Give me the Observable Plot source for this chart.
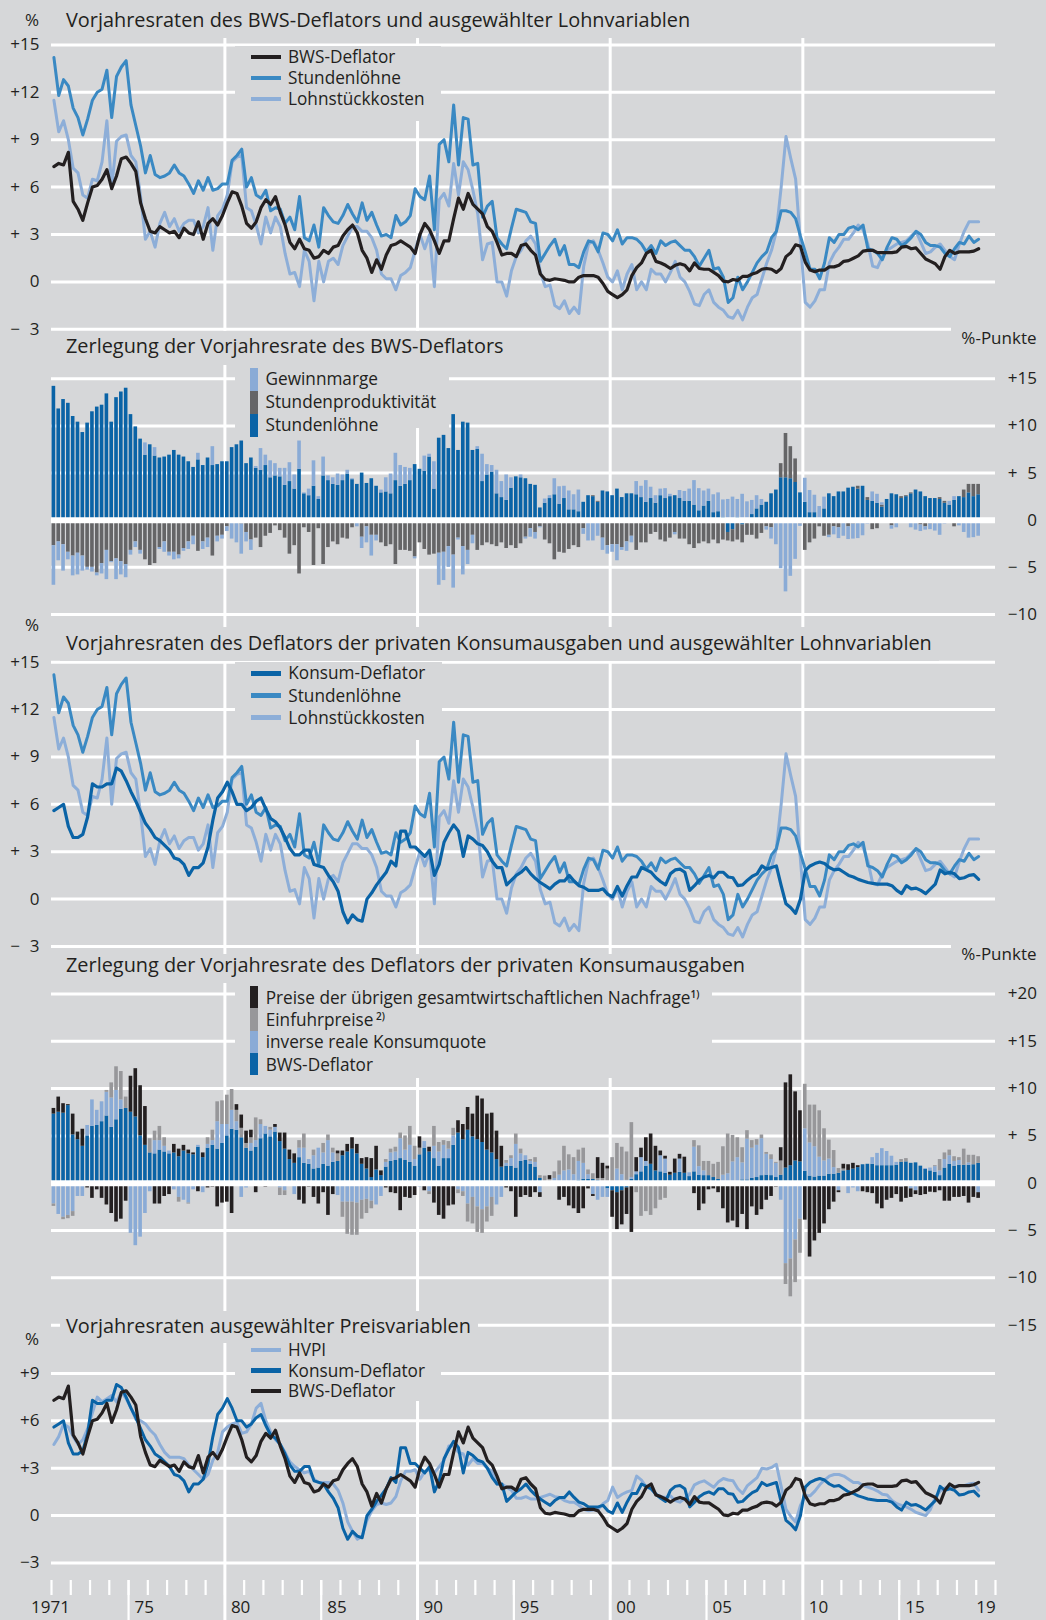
<!DOCTYPE html>
<html><head><meta charset="utf-8">
<script src="https://cdn.jsdelivr.net/npm/d3@7"></script>
<script src="https://cdn.jsdelivr.net/npm/@observablehq/plot@0.6"></script>
<style>
html,body{margin:0;padding:0;background:#d6d7d9;}
#chart{position:relative;width:1046px;height:1620px;background:#d6d7d9;overflow:hidden;font-family:"Open Sans","Noto Sans","DejaVu Sans",sans-serif;color:#231f20;}
#chart svg{position:absolute;left:0;overflow:visible;}
.m{position:absolute;background:#d6d7d9;}
.t{position:absolute;transform:translateY(-50%);line-height:1.2;white-space:nowrap;color:#231f20;}
.sw{position:absolute;}
sup{font-size:0.58em;vertical-align:0.6em;line-height:0;font-weight:600;}
</style></head>
<body><div id="chart"></div>
<script>
// ---------- data (quarterly, 1971Q1 .. 2019Q1) ----------
const bws = [
7.3,7.5,7.4,8.2, 5.1,4.6,3.9,5.0, 6.0,6.1,6.5,7.1, 5.9,6.7,7.8,7.9, 7.5,7.0,5.0,4.0,
3.2,3.1,3.5,3.3, 3.1,3.2,2.8,3.4, 3.1,3.0,3.8,2.7, 3.7,4.0,3.6,4.2, 5.0,5.7,5.6,4.8,
3.7,3.4,3.8,4.7, 5.2,4.9,5.4,4.4, 3.6,2.5,2.1,2.7, 2.1,2.0,1.5,1.6, 2.0,1.8,2.2,2.3,
2.9,3.3,3.6,3.1, 2.0,1.5,0.6,1.4, 0.8,1.7,2.3,2.4, 2.6,2.4,2.2,1.8, 3.0,3.7,3.3,2.6,
1.8,2.6,2.6,4.0, 5.3,4.6,5.6,4.9, 4.6,4.3,3.5,3.2, 2.5,1.7,1.8,1.8, 1.6,2.3,2.4,2.0,
1.7,0.5,0.15,0.1, 0.2,0.15,0.1,0.0, 0.0,0.3,0.4,0.4, 0.4,0.3,-0.1,-0.6, -0.8,-1.0,-0.8,-0.5,
0.4,0.9,1.2,1.8, 2.0,1.3,1.2,1.05, 0.85,1.05,1.15,1.05, 0.7,1.2,0.85,0.8, 0.8,0.6,0.4,0.05,
0.0,0.15,0.1,0.35, 0.35,0.5,0.6,0.8, 0.85,0.8,0.6,0.85, 1.6,1.85,2.35,2.25, 1.25,0.75,0.65,0.75,
0.75,0.95,0.95,1.05, 1.3,1.35,1.5,1.65, 1.95,2.0,2.0,1.85, 1.85,1.85,1.85,1.9, 2.2,2.25,2.1,2.15,
1.8,1.45,1.3,1.15, 0.8,1.6,2.0,1.8, 1.9,1.9,1.9,1.95, 2.1];

const stundenloehne = [
14.2,11.8,12.8,12.4, 11.0,10.4,9.3,10.3, 11.5,12.0,12.2,13.4, 10.4,13.0,13.6,14.0, 11.2,9.9,8.6,6.9,
8.0,6.8,6.6,6.7, 6.9,7.4,6.9,6.7, 6.2,5.6,6.4,5.8, 6.6,5.8,5.9,6.2, 6.2,7.7,8.0,8.4,
6.0,6.6,5.5,5.3, 5.8,4.5,4.7,4.6, 3.7,4.1,3.3,5.4, 2.8,2.6,3.6,2.2, 4.7,4.2,3.8,3.7,
4.2,4.9,4.3,3.8, 5.0,3.9,4.4,3.6, 2.9,3.0,2.8,4.2, 3.6,3.8,4.2,5.9, 5.4,5.2,6.7,3.3,
8.7,9.0,7.6,11.2, 7.4,10.4,10.3,7.4, 7.5,4.1,4.8,5.1, 2.8,2.4,2.1,3.4, 4.6,4.5,4.4,3.8,
3.7,1.3,1.8,2.3, 2.7,1.7,2.3,1.1, 1.1,0.9,1.9,2.6, 2.5,1.9,3.1,3.0, 2.6,3.3,2.4,2.8,
2.8,2.7,2.4,1.9, 2.3,1.8,2.6,2.3, 2.5,2.6,2.3,2.0, 2.0,1.6,1.0,1.5, 2.0,0.8,0.9,0.3,
-1.3,-1.0,0.3,-0.5, 0.0,0.6,1.2,1.6, 1.9,2.8,3.2,4.5, 4.5,4.4,4.0,2.9, 1.9,0.8,0.8,0.2,
1.2,2.8,2.5,3.0, 3.0,3.4,3.5,3.3, 3.6,2.1,2.0,1.8, 1.4,2.2,2.8,2.7, 2.3,2.5,2.8,3.2,
3.0,2.5,2.3,2.3, 2.2,1.8,1.6,2.1, 2.5,2.4,2.9,2.5, 2.7];

const lohnstueckkosten = [
11.5,9.5,10.2,9.0, 7.2,6.9,5.5,5.3, 6.5,6.4,7.6,10.2, 6.0,8.9,9.2,9.3, 8.0,7.6,5.4,2.7,
3.2,2.2,3.7,4.4, 3.5,4.0,3.2,3.7, 3.9,3.9,3.1,3.5, 4.7,2.0,4.2,4.6, 5.5,7.6,7.9,8.0,
4.7,4.5,3.6,2.4, 4.1,3.1,4.1,3.5, 1.8,0.5,0.6,-0.3, 2.0,1.3,-1.2,1.3, 0.0,1.3,1.5,1.1,
2.3,2.9,3.5,3.5, 3.2,3.2,2.8,2.0, 0.5,0.2,0.2,-0.5, 0.4,0.6,0.9,2.0, 3.0,2.1,3.0,-0.3,
5.2,5.6,4.8,7.5, 5.5,7.6,7.1,5.8, 4.3,1.4,2.4,2.5, 0.0,0.0,-0.9,0.7, 1.6,2.0,2.6,2.9,
2.4,0.6,-0.3,-0.2, -1.5,-1.7,-1.2,-2.0, -1.6,-2.0,1.0,2.4, 2.6,2.0,1.2,0.3, 0.0,0.7,-0.5,0.5,
1.1,-0.5,0.0,-0.5, 0.8,0.5,0.5,0.0, 0.6,1.3,0.3,0.0, -0.6,-1.4,-1.5,-0.8, -0.5,-1.3,-1.6,-1.8,
-2.2,-2.3,-1.8,-2.4, -1.6,-1.0,-0.8,0.2, 1.2,2.0,3.2,6.0, 9.2,7.8,6.5,2.5, -1.3,-1.6,-1.2,-0.5,
-0.5,1.2,1.8,2.2, 2.7,2.7,3.1,3.6, 3.3,2.4,1.0,0.9, 1.6,2.0,2.2,2.4, 2.5,2.6,2.9,3.2,
2.5,1.8,1.9,2.2, 2.4,2.0,1.6,1.4, 2.4,3.2,3.8,3.8, 3.8];

const konsumDeflator = [
5.6,5.8,6.0,4.6, 3.9,3.9,4.1,5.2, 7.3,7.1,7.1,7.3, 7.3,8.3,8.1,7.5, 6.8,6.2,5.5,4.8,
4.4,3.9,3.7,3.4, 3.1,2.6,2.5,2.2, 1.5,2.0,2.0,2.3, 3.3,5.0,6.4,6.8, 7.4,6.8,6.0,6.0,
5.6,5.8,6.2,6.4, 5.7,5.1,4.9,4.5, 3.9,3.2,2.8,2.8, 3.1,3.1,2.2,2.1, 2.0,1.5,1.1,0.5,
-0.8,-1.5,-1.0,-1.3, -1.4,0.0,0.4,0.9, 1.3,1.7,2.4,2.1, 4.3,4.3,3.3,3.3, 3.0,2.7,3.1,1.5,
2.2,3.6,4.2,4.7, 4.3,2.7,4.0,3.8, 3.5,3.4,3.0,2.4, 2.0,2.0,0.9,1.2, 1.5,1.7,2.0,1.6,
1.3,1.05,0.85,0.65, 0.95,1.15,1.15,1.5, 1.15,0.85,0.75,0.55, 0.55,0.55,0.65,0.3, 0.15,0.8,0.2,0.85,
1.4,1.4,2.0,1.85, 1.7,1.35,1.1,0.9, 1.6,1.85,1.9,1.7, 0.55,0.85,1.2,1.4, 1.5,1.35,1.7,1.7,
1.4,1.35,0.85,0.9, 1.2,1.45,1.6,2.1, 1.9,2.0,2.1,0.85, -0.3,-0.55,-0.9,0.0, 1.8,2.1,2.25,2.35,
2.25,2.0,1.85,1.9, 1.7,1.5,1.4,1.25, 1.15,1.05,1.0,0.95, 0.95,0.95,0.85,0.55, 0.35,0.85,0.65,0.7,
0.55,0.35,0.65,0.95, 1.85,1.6,1.7,1.6, 1.3,1.35,1.5,1.55, 1.25];

const hvpi = [
4.5,5.0,5.8,5.6, 5.0,4.5,4.8,5.5, 6.5,7.5,7.2,7.4, 7.6,7.2,7.8,7.4, 6.8,6.1,6.0,5.8,
5.4,5.1,4.5,4.0, 3.7,3.7,3.7,3.6, 3.2,2.9,2.6,2.3, 2.6,3.5,4.0,5.3, 5.6,5.8,5.9,5.2,
5.3,5.8,6.8,7.1, 6.0,5.3,4.8,4.5, 4.0,3.4,3.1,2.9, 2.7,2.8,2.3,2.1, 2.1,2.1,2.0,1.6,
0.8,-0.4,-1.0,-1.5, -1.3,-0.3,0.3,0.7, 0.8,0.7,0.8,1.2, 2.2,2.8,2.8,2.9, 2.3,2.8,2.9,2.7,
3.1,3.5,4.4,4.4, 4.0,3.9,3.2,3.6, 3.3,3.3,3.0,2.8, 2.0,2.0,1.8,1.6, 1.1,1.1,1.2,1.05,
1.05,1.15,1.25,1.35, 1.2,1.15,0.95,0.85, 0.85,0.65,0.4,0.3, 0.35,0.4,0.75,0.95, 1.8,1.15,1.35,1.5,
1.6,2.5,2.25,1.8, 1.7,1.35,1.2,1.15, 1.25,0.95,0.85,1.1, 1.35,1.95,2.1,2.2, 2.0,1.8,2.15,2.35,
2.25,2.2,1.7,1.4, 1.9,2.15,2.4,3.0, 2.95,3.05,3.25,1.85, 0.4,-0.05,-0.4,0.65, 1.25,1.25,1.55,1.95,
2.25,2.5,2.6,2.6, 2.5,2.3,2.1,2.1, 1.9,1.8,1.7,1.55, 1.35,1.3,0.95,0.75, 0.65,0.55,0.4,0.2,
0.1,0.0,0.4,1.15, 1.55,1.75,1.8,1.85, 1.9,1.9,2.0,2.05, 1.6];

// contributions to the consumption deflator (percentage points)
const konsumquote = [
-2.2,-3.3,-3.6,-3.4, -3.0,-1.4,-1.4,1.1, 2.8,1.6,2.1,2.5, 3.1,3.1,1.0,0, -5.3,-6.6,-5.7,-3.2,
-0.9,1.4,1.0,0.6, 0.3,-0.7,-1.5,-1.8, -2.1,-0.7,0.2,-1.0, 0.4,0.5,2.9,2.0, 1.2,2.0,0.9,-1.5,
-0.5,0.8,0.7,1.5, 0.8,0.7,0.5,-0.5, -0.8,-0.3,-1.2,1.0, 1.6,0.5,1.4,2.1, 1.2,2.7,1.0,-1.3,
-2.0,-2.0,-2.0,-2.1, -1.8,-1.7,-1.9,-2.3, -1.4,0.5,0.9,0.9, 2.1,1.1,1.8,0.7, -0.4,0.7,-0.9,1.3,
1.5,1.4,1.0,1.0, -0.7,-0.9,-2.2,-1.5, -2.5,-2.8,-2.5,-1.5, -2.3,-1.5,0.3,0.8, 2.5,0.8,0.5,0.3,
0.5,-1.0,0,0, 0.3,0.7,1.2,1.4, 0.9,2.0,1.7,0.5, -1.2,-1.8,-1.4,-0.9, 0,1.5,0.9,0.3,
0.2,0.3,1.5,0.5, 0,0,1.7,1.5, 0,0,1.4,0, 0.4,2.6,0.9,0.5, 0,0,0,0.8,
1.0,2.1,2.6,1.8, 4.3,3.2,3.4,3.9, 2.2,1.7,1.5,-1.8, -8.5,-8.0,-6.0,-3.8, 4.5,3.5,3.2,2.0,
1.6,1.6,0.7,-0.8, 0,-1.1,-0.5,-0.9, -0.3,0,0.7,1.3, 1.8,1.5,1.0,0.3, -0.4,0,-0.6,-0.8,
0,0.1,0.3,0.6, 0.5,0.9,0.9,0.5, 0.5,0,0.25,0, -1.0];

const einfuhrpreise = [
-0.25,0,-0.25,-0.35, -0.5,0,0,0, 0,0,0,0.2, 1.6,2.5,3.0,1.2, 0,0,0,0,
1.5,1.0,1.5,0.9, 0,0,-0.5,0, -0.1,0,0,0, 0.7,1.1,2.1,2.5, 3.1,2.2,1.2,1.0,
0.5,0.6,2.4,0.5, 0,0.3,0,-0.8, -0.5,0,0,0.8, 1.5,0,0.6,0, 1.0,0.6,0.5,0.8,
-1.6,-3.4,-3.5,-3.4, -2.0,-1.5,-0.8,0, 0,0.3,0.4,0.5, 0.6,1.5,2.0,1.4, 0.7,0,-0.3,2.1,
1.0,0.5,0.8,0.8, -0.4,-0.5,-1.9,-2.8, -2.7,-2.5,-1.6,-2.0, 0,0,0.3,0.3, 1.1,0.5,0,0.2,
0.5,0.3,0.6,0.3, 0.7,1.5,2.6,1.6, 1.8,1.2,1.6,0.5, 0.6,0.2,0.5,1.5, 2.7,2.7,2.9,3.0,
5.8,-1.0,-3.5,-3.0, -3.4,-2.7,-1.8,-1.6, 0,-0.3,0,0, 0,0.7,2.2,1.0, 1.5,1.4,1.8,3.0,
4.2,2.8,2.1,1.6, 0.9,0.8,0.6,0.4, 0.2,0.5,0.1,1.5, -2.2,-4.0,-4.5,-3.6, 4.7,4.0,4.4,4.9,
3.4,2.0,1.8,0.5, 0.2,0,0,0, 0,0,0,0, 0,0,0,0, 0.3,0.35,0,0,
0,0,0,0.1, 1.2,0.7,0.6,0.5, 0.3,1.7,0.8,1.0, 0.7];

const uebrigeNachfrage = [
0.6,1.6,1.0,0.1, 2.2,0.8,1.8,-0.5, -1.6,-0.7,-1.6,-2.3, -3.2,-4.1,-3.8,-1.9, 3.8,5.1,5.3,4.1,
0,-2.2,-2.2,-1.4, -1.2,0.9,0.8,0.6, 0.4,0.2,-0.9,0.5, -0.5,-0.4,-2.5,-2.1, -2.0,-3.2,0.6,1.4,
1.3,0.8,-1.0,-0.3, -0.4,-0.3,0.3,0.9, 1.7,1.0,1.0,-1.8, -2.2,-0.4,-1.5,-2.2, -1.0,-3.4,-1.2,0.3,
0.5,0.8,1.2,1.0, 0.6,1.2,2.0,2.5, 0.5,-0.5,-1.0,-1.1, -2.9,-1.5,-1.6,-1.3, 1.2,-0.8,0.5,-2.1,
-3.4,-3.8,-2.4,-2.3, 1.3,1.6,2.4,2.4, 4.6,4.6,3.8,4.2, 3.0,2.2,-0.5,-0.9, -3.6,-1.5,-1.3,-1.5,
-1.0,-0.5,0,0.4, -0.3,-1.8,-1.5,-2.4, -2.7,-3.2,-2.7,-0.6, -0.2,2.2,1.6,0.3, -2.8,-3.9,-3.6,-2.8,
-5.2,1.5,1.0,2.5, 3.2,2.6,0.5,0.3, 0.3,1.5,0.5,1.7, 0,-1.1,-2.9,-2.2, -0.7,-0.6,-1.0,-2.7,
-4.2,-4.0,-4.7,-3.3, -4.9,-2.5,-3.4,-2.8, -1.8,-1.4,-0.4,1.4, 9.0,9.6,7.3,5.4, -3.9,-7.8,-6.1,-5.3,
-4.3,-2.8,-2.0,-0.2, 0.5,0.6,0.6,0.2, -0.6,-1.0,-1.1,-2.2, -2.7,-1.8,-1.6,-1.2, -1.6,-1.6,-0.9,-0.4,
-1.3,-1.2,-0.95,-1.0, -0.8,-1.9,-1.9,-1.5, -1.5,-1.4,-2.1,-1.5, -0.6];

// axis ticks and labels
const p1Ticks = [15,12,9,6,3,0,-3];
const p1Labels = ["+15","+12","+\u20079","+\u20076","+\u20073","0","\u2212\u20073"];
const p2Ticks = [15,10,5,0,-5,-10];
const p2Labels = ["+15","+10","+\u20075","0","\u2212\u20075","\u221210"];
const p4Ticks = [20,15,10,5,0,-5,-10,-15];
const p4Labels = ["+20","+15","+10","+\u20075","0","\u2212\u20075","\u221210","\u221215"];
const p5Ticks = [9,6,3,0,-3];
const p5Labels = ["+9","+6","+3","0","\u22123"];
const decadeYears = [1980,1990,2000,2010];
const fiveYears = [1975,1985,1995,2005,2015];
const labelYears = [1971,1975,1980,1985,1990,1995,2000,2005,2010,2015,2019];
const labelTexts = ["1971","75","80","85","90","95","00","05","10","15","19"];

// ---------- checks ----------
const N = 193;
for (const [n,a] of Object.entries({bws,stundenloehne,lohnstueckkosten,konsumDeflator,hvpi,konsumquote,einfuhrpreise,uebrigeNachfrage}))
  if (a.length !== N) throw new Error(n + " has " + a.length + " values");

// ---------- styling ----------
const BG = "#d6d7d9";
const C = {black:"#231f20", sl:"#3a89c3", lsk:"#8daed8", dark:"#0a63a6", marge:"#8aabd6", prod:"#656567", ep:"#97979a"};
const FONT = '"Open Sans","Noto Sans","DejaVu Sans",sans-serif';
const TICKFONT = 17;
const X = {domain:[1971,2020], range:[51,995], axis:null};

const chart = document.getElementById("chart");
const quarters = d3.range(N).map(i => 1971 + i / 4);
const rows = quarters.map((t,i) => ({t, tm: t + 0.125, bws: bws[i], sl: stundenloehne[i], lsk: lohnstueckkosten[i], kons: konsumDeflator[i], hvpi: hvpi[i]}));

function grid(ticks){ return Plot.ruleY(ticks, {stroke:"white", strokeWidth:3}); }
function yLabels(ticks, labels, side){
  return Plot.text(ticks.map((v,i)=>({v, s: labels[i]})), {y:"v", text:"s", frameAnchor: side, textAnchor:"end",
    dx: side === "left" ? -12 : 41.5, fill: C.black, fontSize: TICKFONT});
}
function place(top, opts){
  const svg = Plot.plot({width:1046, marginLeft:51, marginRight:51, marginTop:0, marginBottom:0, x: X,
    style:{background:"transparent", fontFamily: FONT, color: C.black, overflow:"visible"}, ...opts});
  svg.style.top = top + "px";
  chart.append(svg);
}

// background: decade gridlines through all panels
place(0, {height:1620, marginTop:38, y:{axis:null}, marks:[Plot.ruleX(decadeYears, {stroke:"white", strokeWidth:3})]});

// panel 1
place(0, {height:340, y:{domain:[-3,15], range:[328.8,44.4], axis:null}, marks:[
  grid(p1Ticks), yLabels(p1Ticks, p1Labels, "left"),
  Plot.line(rows, {x:"tm", y:"lsk", stroke:C.lsk, strokeWidth:3}),
  Plot.line(rows, {x:"tm", y:"sl", stroke:C.sl, strokeWidth:3}),
  Plot.line(rows, {x:"tm", y:"bws", stroke:C.black, strokeWidth:3.2})
]});

// panel 2
const p2 = quarters.flatMap((t,i) => [
  {t, s:"Stundenlöhne", v: stundenloehne[i]},
  {t, s:"Stundenproduktivität", v: Math.round((lohnstueckkosten[i]-stundenloehne[i])*100)/100},
  {t, s:"Gewinnmarge", v: Math.round((bws[i]-lohnstueckkosten[i])*100)/100}
]);
const p2Order = ["Stundenlöhne","Stundenproduktivität","Gewinnmarge"];
place(330, {height:295, y:{domain:[-10,15], range:[284,48.3], axis:null},
  color:{domain:p2Order, range:[C.dark, C.prod, C.marge]}, marks:[
  grid(p2Ticks.filter(d=>d!==0)), yLabels(p2Ticks, p2Labels, "right"),
  Plot.rectY(p2, {x1:"t", x2: d => d.t + 0.25, y:"v", fill:"s", order:p2Order, insetLeft:0.6, insetRight:0.6}),
  Plot.ruleY([0], {stroke:"white", strokeWidth:6})
]});

// panel 3
place(620, {height:335, y:{domain:[-3,15], range:[326,41.7], axis:null}, marks:[
  grid(p1Ticks), yLabels(p1Ticks, p1Labels, "left"),
  Plot.line(rows, {x:"tm", y:"lsk", stroke:C.lsk, strokeWidth:3}),
  Plot.line(rows, {x:"tm", y:"sl", stroke:C.sl, strokeWidth:3}),
  Plot.line(rows, {x:"tm", y:"kons", stroke:C.dark, strokeWidth:3.2})
]});

// panel 4
const p4Order = ["BWS","KQ","EP","UN"];
const p4 = quarters.flatMap((t,i) => [
  {t, s:"BWS", v: bws[i]}, {t, s:"KQ", v: konsumquote[i]}, {t, s:"EP", v: einfuhrpreise[i]}, {t, s:"UN", v: uebrigeNachfrage[i]}
]);
place(950, {height:380, y:{domain:[-15,20], range:[374.7,43.4], axis:null},
  color:{domain:p4Order, range:[C.dark, C.marge, C.ep, C.black]}, marks:[
  grid(p4Ticks.filter(d=>d!==0)), yLabels(p4Ticks, p4Labels, "right"),
  Plot.rectY(p4, {x1:"t", x2: d => d.t + 0.25, y:"v", fill:"s", order:p4Order, insetLeft:0.6, insetRight:0.6}),
  Plot.ruleY([0], {stroke:"white", strokeWidth:6})
]});

// panel 5 with the time axis
const allYears = d3.range(1971, 2021);
place(1320, {height:300, marginBottom:40, y:{domain:[-3,9], range:[242.5,52.9], axis:null}, marks:[
  grid(p5Ticks), yLabels(p5Ticks, p5Labels, "left"),
  Plot.line(rows, {x:"tm", y:"hvpi", stroke:C.lsk, strokeWidth:3}),
  Plot.line(rows, {x:"tm", y:"kons", stroke:C.dark, strokeWidth:3}),
  Plot.line(rows, {x:"tm", y:"bws", stroke:C.black, strokeWidth:3.2}),
  Plot.axisX({ticks: allYears, anchor:"bottom", tickSize:15, tickFormat: () => "", stroke:"white", strokeWidth:2.2}),
  Plot.axisX({ticks: fiveYears, anchor:"bottom", tickSize:40, tickFormat: () => "", stroke:"white", strokeWidth:2.2}),
  Plot.text(labelYears.map((y,i)=>({y, s:labelTexts[i]})).filter(d => d.y > 1971 && d.y < 2019),
    {x:"y", text:"s", frameAnchor:"bottom", dy:32.5, dx:6, textAnchor:"start", fill:C.black, fontSize:TICKFONT}),
  Plot.text(labelYears.map((y,i)=>({y, s:labelTexts[i]})).filter(d => d.y === 1971),
    {x:"y", text:"s", frameAnchor:"bottom", dy:32.5, dx:-1, textAnchor:"middle", fill:C.black, fontSize:TICKFONT}),
  Plot.text(labelYears.map((y,i)=>({y, s:labelTexts[i]})).filter(d => d.y === 2019),
    {x:"y", text:"s", frameAnchor:"bottom", dy:32.5, dx:0, textAnchor:"start", fill:C.black, fontSize:TICKFONT})
]});

// ---------- HTML overlays: masks, titles, legends ----------
function mask(x0,y0,x1,y1){ const d=document.createElement("div"); d.className="m";
  Object.assign(d.style,{left:x0+"px",top:y0+"px",width:(x1-x0)+"px",height:(y1-y0)+"px"}); chart.append(d); return d; }
function text(html,x,cy,size,anchorEnd){ const d=document.createElement("div"); d.className="t"; d.innerHTML=html;
  Object.assign(d.style,{left:x+"px",top:cy+"px",fontSize:size+"px"}); if(anchorEnd) d.style.transform="translate(-100%,-50%)";
  chart.append(d); return d; }
function swatchLine(x,cy,color){ const d=document.createElement("div"); d.className="sw";
  Object.assign(d.style,{left:x+"px",top:(cy-2.25)+"px",width:"30px",height:"4.5px",background:color}); chart.append(d); }
function swatchBlock(x,y0,y1,color){ const d=document.createElement("div"); d.className="sw";
  Object.assign(d.style,{left:x+"px",top:y0+"px",width:"7.7px",height:(y1-y0)+"px",background:color}); chart.append(d); }

// fit title font so that the long title spans ~866 px
const probe = text("Vorjahresraten des Deflators der privaten Konsumausgaben und ausgewählter Lohnvariablen",0,-100,100);
const TITLE = 100 * 866 / probe.offsetWidth; probe.remove();
const probe2 = text("Konsum-Deflator",0,-100,100);
const LEG = 100 * 137 / probe2.offsetWidth; probe2.remove();

function title(str, cy, y0, y1){
  const t = text(str, 66, cy, TITLE);
  const w = t.offsetWidth;
  t.remove();
  mask(60, y0, 66 + w + 7, y1);
  chart.append(t);
}
title("Vorjahresraten des BWS-Deflators und ausgewählter Lohnvariablen", 19.8, 0, 38);
title("Zerlegung der Vorjahresrate des BWS-Deflators", 346, 331, 365);
title("Vorjahresraten des Deflators der privaten Konsumausgaben und ausgewählter Lohnvariablen", 642.5, 627, 661);
title("Zerlegung der Vorjahresrate des Deflators der privaten Konsumausgaben", 964.5, 954, 983);
title("Vorjahresraten ausgewählter Preisvariablen", 1325.5, 1311, 1343);

// unit labels
text("%", 32, 19.5, TICKFONT).style.transform = "translate(-50%,-50%)";
text("%", 32, 625, TICKFONT).style.transform = "translate(-50%,-50%)";
text("%", 32, 1338.5, TICKFONT).style.transform = "translate(-50%,-50%)";
mask(951, 326, 1046, 349); text("%-Punkte", 1036.5, 337.5, TICKFONT, true);
mask(951, 943, 1046, 966); text("%-Punkte", 1036.5, 954, TICKFONT, true);

// legend panel 1
mask(235, 46, 441, 121);
[["BWS-Deflator", C.black, 56.8], ["Stundenlöhne", C.sl, 77.9], ["Lohnstückkosten", C.lsk, 99]].forEach(([s,c,y]) => { swatchLine(250.5,y,c); text(s,288,y,LEG); });
// legend panel 2
mask(235, 365, 449, 428);
[["Gewinnmarge", C.marge, 367.5, 390.5], ["Stundenproduktivität", C.prod, 390.5, 413.5], ["Stundenlöhne", C.dark, 413.5, 436.5]]
  .forEach(([s,c,a,b]) => { swatchBlock(250,a,b,c); text(s,265.5,(a+b)/2,LEG); });
// legend panel 3
mask(235, 662, 442, 740);
[["Konsum-Deflator", C.dark, 673.3], ["Stundenlöhne", C.sl, 695.7], ["Lohnstückkosten", C.lsk, 717.7]].forEach(([s,c,y]) => { swatchLine(250.5,y,c); text(s,288.3,y,LEG); });
// legend panel 4
mask(235, 983, 712, 1078);
[["Preise der übrigen gesamtwirtschaftlichen Nachfrage<sup>1)</sup>", C.black, 986, 1008.3],
 ["Einfuhrpreise<sup> 2)</sup>", C.ep, 1008.3, 1030.6],
 ["inverse reale Konsumquote", C.marge, 1030.6, 1052.9],
 ["BWS-Deflator", C.dark, 1052.9, 1075.2]]
  .forEach(([s,c,a,b]) => { swatchBlock(250,a,b,c); text(s,265.7,(a+b)/2 + 0.5,LEG); });
// legend panel 5
mask(235, 1343, 441, 1401);
[["HVPI", C.lsk, 1350], ["Konsum-Deflator", C.dark, 1370.6], ["BWS-Deflator", C.black, 1391.2]].forEach(([s,c,y]) => { swatchLine(250.5,y,c); text(s,288,y,LEG); });
</script>
</body></html>
